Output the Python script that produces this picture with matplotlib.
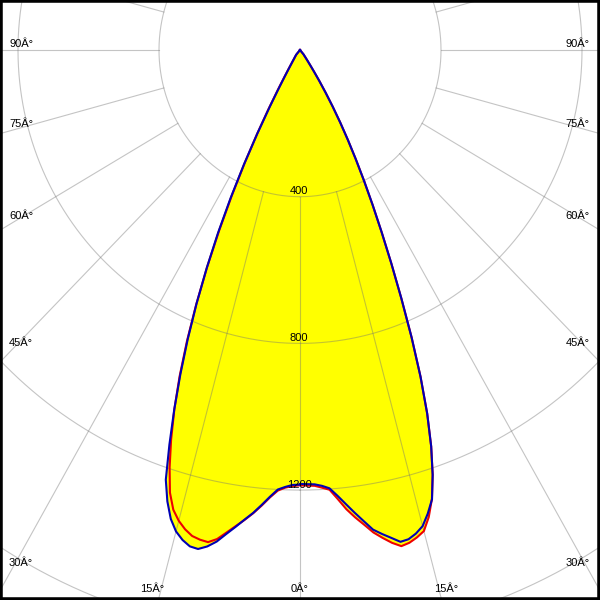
import numpy as np
import matplotlib
matplotlib.use('Agg')
import matplotlib.pyplot as plt

# ---------------- data (luminous intensity, cd) ----------------
gamma = [0, 1, 2, 3, 4, 5, 6, 7, 8, 9, 10, 11, 12, 13, 14, 15, 16, 17, 18, 19,
         20, 21, 22, 23, 24, 25, 26, 27, 28, 29, 30, 31, 32, 33, 34, 35, 36,
         37, 38, 39, 40, 45, 50, 55, 60, 65, 70, 75, 80, 85, 90]

# red curve: C180 (left half) / C0 (right half)
c180 = [1187, 1189, 1194, 1203, 1223, 1247, 1270, 1291, 1311, 1332, 1354, 1367,
        1365, 1360, 1347, 1329, 1304, 1262, 1197, 1123, 1042, 953, 856, 753,
        648, 542, 440, 345, 259, 186, 128, 88, 63, 47, 37, 31, 26, 23, 20, 18,
        16, 0, 0, 0, 0, 0, 0, 0, 0, 0, 0]
c0 = [1187, 1188, 1189, 1195, 1202, 1229, 1259, 1284, 1307, 1332, 1351, 1369,
      1383, 1379, 1370, 1358, 1325, 1280, 1218, 1143, 1055, 954, 845, 736, 637,
      548, 470, 400, 337, 280, 228, 180, 137, 101, 71, 50, 37, 28, 22, 18, 16,
      0, 0, 0, 0, 0, 0, 0, 0, 0, 0]
# blue curve: C270 (left half) / C90 (right half)
c270 = [1185, 1186, 1192, 1200, 1221, 1245, 1269, 1290, 1313, 1336, 1361, 1379,
        1391, 1389, 1377, 1359, 1330, 1287, 1232, 1138, 1043, 947, 850, 751,
        650, 550, 449, 350, 257, 177, 119, 82, 60, 46, 38, 31, 27, 24, 21, 19,
        17, 0, 0, 0, 0, 0, 0, 0, 0, 0, 0]
c90 = [1183, 1184, 1185, 1190, 1198, 1220, 1245, 1271, 1297, 1324, 1340, 1355,
       1371, 1369, 1359, 1344, 1315, 1281, 1218, 1143, 1055, 954, 845, 736, 637,
       548, 470, 400, 337, 280, 228, 180, 137, 101, 71, 50, 37, 28, 22, 18, 16,
       0, 0, 0, 0, 0, 0, 0, 0, 0, 0]

ring_values = [400, 800, 1200, 1600, 2000]
ring_labels = ['400', '800', '1200']
angle_labels = ['90Â°', '75Â°', '60Â°', '45Â°', '30Â°', '15Â°', '0Â°']

# ---------------- layout ----------------
W, H = 600, 600
CX, CY = 300, 50                  # pole position in pixels
KX, KY = 141 / 400, 146.7 / 400   # pixels per cd

plt.rcParams['font.family'] = ['Liberation Sans', 'DejaVu Sans']

fig = plt.figure(figsize=(W / 100, H / 100), dpi=100)
ax = fig.add_axes([0, 0, 1, 1])
ax.set_xlim(-CX / KX, (W - CX) / KX)
ax.set_ylim(-(H - CY) / KY, CY / KY)
ax.set_xticks([])
ax.set_yticks([])
for s in ax.spines.values():
    s.set_color('black')
    s.set_linewidth(4)
    s.set_zorder(10)
ax.set_facecolor('white')

g = np.radians(np.asarray(gamma, dtype=float))


def curve(left, right):
    l = np.asarray(left, dtype=float)
    r = np.asarray(right, dtype=float)
    x = np.concatenate([(-l * np.sin(g))[::-1], r * np.sin(g)])
    y = np.concatenate([(-l * np.cos(g))[::-1], -r * np.cos(g)])
    return x, y


xr, yr = curve(c180, c0)
xb, yb = curve(c270, c90)

ax.fill(xr, yr, color='#FFFF00', lw=0, zorder=1)
ax.fill(xb, yb, color='#FFFF00', lw=0, zorder=1)

# grid
grid_kw = dict(color=(0.45, 0.45, 0.45), alpha=0.42, lw=0.8, zorder=2)
th = np.linspace(0, 2 * np.pi, 1441)
for R in ring_values:
    ax.plot(R * np.sin(th), -R * np.cos(th), **grid_kw)
for a in range(-180, 180, 15):
    t = np.radians(a)
    ax.plot([ring_values[0] * np.sin(t), 4000 * np.sin(t)],
            [-ring_values[0] * np.cos(t), -4000 * np.cos(t)], **grid_kw)

ax.plot(xr, yr, color='#EE0000', lw=1.5, zorder=3, solid_joinstyle='round')
ax.plot(xb, yb, color='#0000B4', lw=1.5, zorder=4, solid_joinstyle='round')

# ring labels
for R, lab in zip(ring_values, ring_labels):
    ax.annotate(lab, xy=(0, -R), xytext=(-1, 2.5), textcoords='offset pixels',
                ha='center', va='baseline', fontsize=8, color='black', zorder=6)

# angle labels (pixel baselines)
fs = 8
left_base = [47, 127, 219, 346, 566]
for lab, yb_ in zip(angle_labels[:5], left_base):
    fig.text(9 / W, 1 - yb_ / H, lab, ha='left', va='baseline', fontsize=fs)
    fig.text(589.5 / W, 1 - yb_ / H, lab, ha='right', va='baseline', fontsize=fs)
fig.text(140 / W, 1 - 592 / H, angle_labels[5], ha='left', va='baseline', fontsize=fs)
fig.text(434.5 / W, 1 - 592 / H, angle_labels[5], ha='left', va='baseline', fontsize=fs)
fig.text(291 / W, 1 - 592 / H, angle_labels[6], ha='left', va='baseline', fontsize=fs)

fig.savefig('out.png', dpi=100)
